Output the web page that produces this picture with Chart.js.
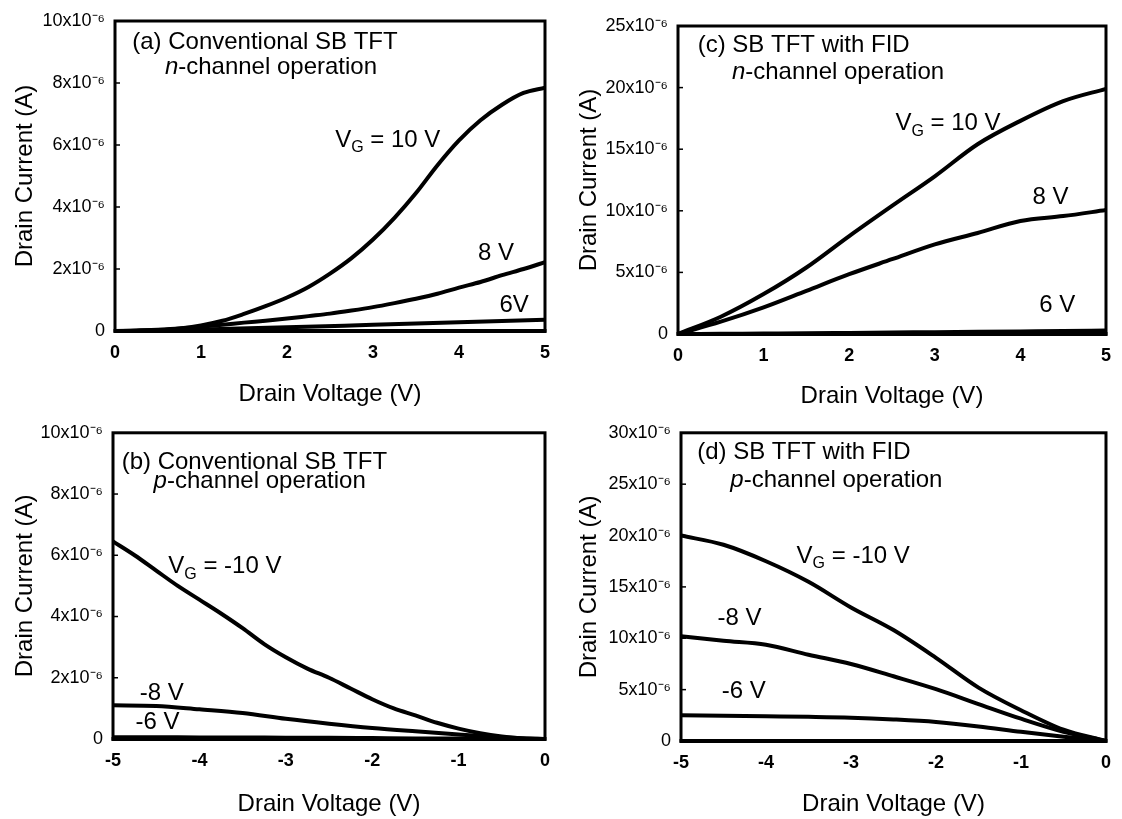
<!DOCTYPE html>
<html>
<head>
<meta charset="utf-8">
<script src="https://cdn.jsdelivr.net/npm/chart.js@4.4.1/dist/chart.umd.min.js"></script>
<style>
  body { margin: 0; background: #fff; }
  .panel { position: absolute; }
</style>
</head>
<body>
<div class="panel" style="left:0;top:0;width:561px;height:412px"><canvas id="chart_a"></canvas></div>
<div class="panel" style="left:561px;top:0;width:561px;height:412px"><canvas id="chart_c"></canvas></div>
<div class="panel" style="left:0;top:412px;width:561px;height:407px"><canvas id="chart_b"></canvas></div>
<div class="panel" style="left:561px;top:412px;width:561px;height:407px"><canvas id="chart_d"></canvas></div>
<script>
const FONT = '"Liberation Sans", Arial, Helvetica, sans-serif';

// (a) conventional SB TFT, n-channel (current in 1e-6 A)
const aVdFine = [0, 0.25, 0.5, 0.75, 1, 1.25, 1.5, 1.75, 2, 2.25, 2.5, 2.75, 3, 3.25, 3.5, 3.75, 4, 4.25, 4.5, 4.75, 5];
const aVdCoarse = [0, 1, 2, 3, 4, 5];
const aId10 = [0, 0.01, 0.03, 0.08, 0.18, 0.33, 0.55, 0.8, 1.08, 1.42, 1.85, 2.35, 2.95, 3.65, 4.45, 5.35, 6.15, 6.8, 7.3, 7.68, 7.85];
const aId8 = [0, 0.01, 0.04, 0.08, 0.14, 0.2, 0.27, 0.33, 0.4, 0.48, 0.56, 0.66, 0.77, 0.9, 1.04, 1.2, 1.4, 1.58, 1.8, 2.0, 2.22];
const aId6 = [0, 0.05, 0.12, 0.2, 0.28, 0.36];

// (c) SB TFT with FID, n-channel
const cVd = [0, 0.5, 1, 1.5, 2, 2.5, 3, 3.5, 4, 4.5, 5];
const cId10 = [0, 1.4, 3.24, 5.4, 7.95, 10.4, 12.8, 15.4, 17.3, 18.9, 19.9];
const cId8 = [0, 1.0, 2.16, 3.5, 4.85, 6.07, 7.28, 8.2, 9.17, 9.57, 10.06];
const cId6 = [0, 0.02, 0.04, 0.06, 0.09, 0.12, 0.15, 0.18, 0.21, 0.24, 0.28];

// (b) conventional SB TFT, p-channel
const bVdFine = [-5, -4.75, -4.5, -4.25, -4, -3.75, -3.5, -3.25, -3, -2.75, -2.5, -2.25, -2, -1.75, -1.5, -1.25, -1, -0.75, -0.5, -0.25, 0];
const bVdCoarse = [-5, -4.5, -4, -3.5, -3, -2.5, -2, -1.5, -1, -0.5, 0];
const bId10 = [6.45, 6.0, 5.5, 5.0, 4.55, 4.1, 3.62, 3.1, 2.67, 2.3, 2.0, 1.65, 1.3, 1.0, 0.77, 0.53, 0.34, 0.19, 0.085, 0.02, 0];
const bId8 = [1.1, 1.08, 0.97, 0.85, 0.66, 0.5, 0.36, 0.25, 0.15, 0.06, 0];
const bId6 = [0.06, 0.06, 0.05, 0.05, 0.04, 0.04, 0.03, 0.02, 0.015, 0.01, 0];

// (d) SB TFT with FID, p-channel
const dVd = [-5, -4.5, -4, -3.5, -3, -2.5, -2, -1.5, -1, -0.5, 0];
const dId10 = [20.0, 19.1, 17.5, 15.5, 13.0, 10.8, 8.1, 5.2, 3.0, 1.1, 0];
const dId8 = [10.2, 9.75, 9.37, 8.4, 7.5, 6.3, 5.05, 3.6, 2.17, 0.9, 0];
const dId6 = [2.5, 2.45, 2.4, 2.35, 2.27, 2.1, 1.85, 1.42, 0.9, 0.42, 0];

function toPoints(xs, ys) {
    return xs.map((x, i) => ({ x: x, y: ys[i] }));
}

function yTickLabel(v) {
    return v === 0 ? '0' : v + 'x10\u207B\u2076';
}

// Text with italic / subscript parts, drawn left to right
function drawRich(ctx, x, y, parts) {
    let cx = x;
    parts.forEach(([text, kind]) => {
        let size = 24, dy = 0, style = 'normal';
        if (kind === 'sub') { size = 16; dy = 8; }
        if (kind === 'italic') style = 'italic';
        ctx.font = `${style} ${size}px ${FONT}`;
        ctx.fillText(text, cx, y + dy);
        cx += ctx.measureText(text).width;
    });
}

const panelText = {
    id: 'panelText',
    afterDatasetsDraw(chart, args, opts) {
        const ctx = chart.ctx;
        const xs = chart.scales.x, ys = chart.scales.y;
        ctx.save();
        ctx.fillStyle = '#000';
        ctx.textBaseline = 'middle';
        ctx.textAlign = 'left';
        (opts.items || []).forEach(item => {
            drawRich(ctx, xs.getPixelForValue(item.x), ys.getPixelForValue(item.y), item.parts);
        });
        ctx.restore();
    }
};

// Thick frame round the plot area plus short inward y ticks
const frame = {
    id: 'frame',
    afterDraw(chart) {
        const { ctx, chartArea: a } = chart;
        const ys = chart.scales.y;
        ctx.save();
        ctx.strokeStyle = '#000';
        ctx.lineWidth = 3;
        ctx.strokeRect(a.left, a.top, a.right - a.left, a.bottom - a.top);
        ctx.lineWidth = 4;
        ctx.beginPath();
        ctx.moveTo(a.left - 1.5, a.bottom);
        ctx.lineTo(a.right + 1.5, a.bottom);
        ctx.stroke();
        ctx.lineWidth = 1.5;
        ys.ticks.forEach(t => {
            const py = ys.getPixelForValue(t.value);
            ctx.beginPath();
            ctx.moveTo(a.left, py);
            ctx.lineTo(a.left + 5, py);
            ctx.stroke();
        });
        ctx.restore();
    }
};

const panels = [
    {
        id: 'chart_a', xMin: 0, xMax: 5, yMax: 10, yStep: 2,
        pad: { left: 11, top: 21, right: 9, bottom: 3 }, yWidth: 104, xHeight: 78,
        curves: [[aVdFine, aId10], [aVdFine, aId8], [aVdCoarse, aId6]],
        texts: [
            { x: 0.2, y: 9.3, parts: [['(a) Conventional SB TFT']] },
            { x: 0.58, y: 8.5, parts: [['n', 'italic'], ['-channel operation']] },
            { x: 2.56, y: 6.16, parts: [['V'], ['G', 'sub'], [' = 10 V']] },
            { x: 4.22, y: 2.52, parts: [['8 V']] },
            { x: 4.47, y: 0.84, parts: [['6V']] },
        ],
    },
    {
        id: 'chart_c', xMin: 0, xMax: 5, yMax: 25, yStep: 5,
        pad: { left: 14, top: 26, right: 7, bottom: 1 }, yWidth: 103, xHeight: 77,
        curves: [[cVd, cId10], [cVd, cId8], [cVd, cId6]],
        texts: [
            { x: 0.23, y: 23.4, parts: [['(c) SB TFT with FID']] },
            { x: 0.63, y: 21.2, parts: [['n', 'italic'], ['-channel operation']] },
            { x: 2.54, y: 17.1, parts: [['V'], ['G', 'sub'], [' = 10 V']] },
            { x: 4.14, y: 11.1, parts: [['8 V']] },
            { x: 4.22, y: 2.3, parts: [['6 V']] },
        ],
    },
    {
        id: 'chart_b', xMin: -5, xMax: 0, yMax: 10, yStep: 2,
        pad: { left: 11, top: 15, right: 12, bottom: 0 }, yWidth: 102, xHeight: 80,
        curves: [[bVdFine, bId10], [bVdCoarse, bId8], [bVdCoarse, bId6]],
        texts: [
            { x: -4.9, y: 9.05, parts: [['(b) Conventional SB TFT']] },
            { x: -4.53, y: 8.4, parts: [['p', 'italic'], ['-channel operation']] },
            { x: -4.36, y: 5.64, parts: [['V'], ['G', 'sub'], [' = -10 V']] },
            { x: -4.69, y: 1.49, parts: [['-8 V']] },
            { x: -4.74, y: 0.53, parts: [['-6 V']] },
        ],
    },
    {
        id: 'chart_d', xMin: -5, xMax: 0, yMax: 30, yStep: 5,
        pad: { left: 14, top: 16, right: 6, bottom: 0 }, yWidth: 106, xHeight: 78,
        curves: [[dVd, dId10], [dVd, dId8], [dVd, dId6]],
        texts: [
            { x: -4.81, y: 28.1, parts: [['(d) SB TFT with FID']] },
            { x: -4.42, y: 25.4, parts: [['p', 'italic'], ['-channel operation']] },
            { x: -3.64, y: 18.0, parts: [['V'], ['G', 'sub'], [' = -10 V']] },
            { x: -4.57, y: 11.9, parts: [['-8 V']] },
            { x: -4.52, y: 4.8, parts: [['-6 V']] },
        ],
    },
];

document.addEventListener('DOMContentLoaded', function () {
    panels.forEach(p => {
        new Chart(document.getElementById(p.id), {
            type: 'line',
            data: {
                datasets: p.curves.map(([xs, ys]) => ({
                    data: toPoints(xs, ys),
                    borderColor: '#000',
                    borderWidth: 4,
                    pointRadius: 0,
                    cubicInterpolationMode: 'monotone',
                    fill: false,
                })),
            },
            options: {
                responsive: true,
                maintainAspectRatio: false,
                animation: false,
                layout: { padding: p.pad },
                plugins: {
                    legend: { display: false },
                    tooltip: { enabled: false },
                    panelText: { items: p.texts },
                },
                scales: {
                    x: {
                        type: 'linear',
                        min: p.xMin,
                        max: p.xMax,
                        grid: { display: false, drawTicks: false },
                        border: { display: false },
                        ticks: {
                            stepSize: 1,
                            padding: 11,
                            color: '#000',
                            font: { family: FONT, size: 18, weight: 'bold' },
                        },
                        title: {
                            display: true,
                            text: 'Drain Voltage (V)',
                            color: '#000',
                            padding: 0,
                            font: { family: FONT, size: 24 },
                        },
                        afterFit: s => { s.height = p.xHeight; },
                    },
                    y: {
                        type: 'linear',
                        min: 0,
                        max: p.yMax,
                        grid: { display: false, drawTicks: false },
                        border: { display: false },
                        ticks: {
                            stepSize: p.yStep,
                            padding: 10,
                            color: '#000',
                            font: { family: FONT, size: 18 },
                            callback: yTickLabel,
                        },
                        title: {
                            display: true,
                            text: 'Drain Current (A)',
                            color: '#000',
                            padding: 0,
                            font: { family: FONT, size: 24 },
                        },
                        afterFit: s => { s.width = p.yWidth; },
                    },
                },
            },
            plugins: [panelText, frame],
        });
    });
});
</script>
</body>
</html>
